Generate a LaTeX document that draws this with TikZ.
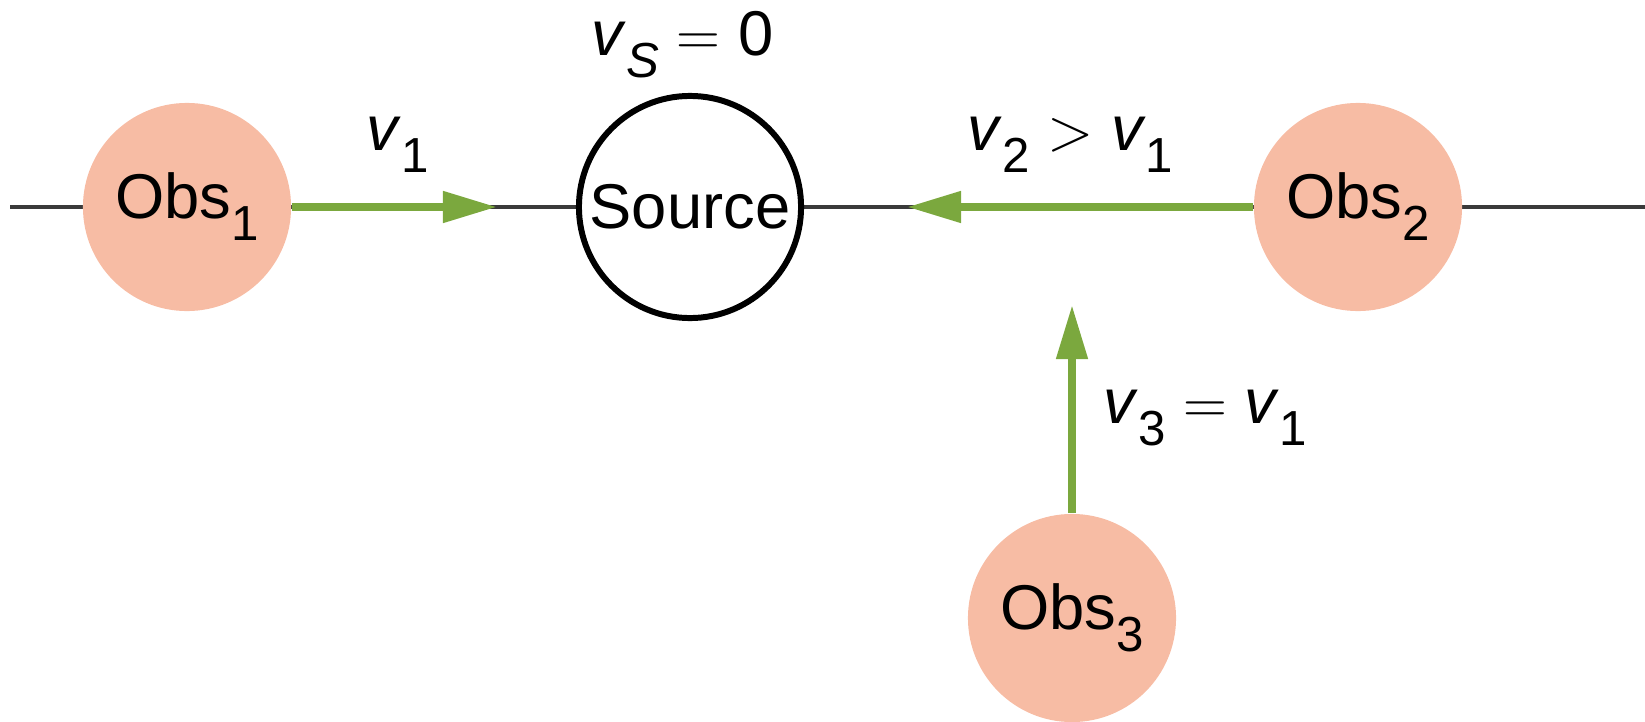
\documentclass[tikz,border=0pt]{standalone}
\usepackage{fontspec}
\setmainfont{Liberation Sans}
\usetikzlibrary{arrows.meta,positioning}
\definecolor{salmao}{HTML}{F7BCA4}
\definecolor{verde}{HTML}{7BA83E}
\definecolor{cinza}{HTML}{3A3A3A}
\newcommand{\lowsub}[1]{\raisebox{-0.22cm}{\fontsize{14}{14}\selectfont #1}}
\newcommand{\vel}[1]{\textit{v}\lowsub{#1}}

\begin{document}
\begin{tikzpicture}[
  x=0.01cm,y=-0.01cm,
  font=\fontsize{18}{20}\selectfont,
  obs/.style={circle,fill=salmao,minimum size=2.08cm,inner sep=0pt},
  fonte/.style={circle,draw=black,line width=1.7pt,fill=white,
                minimum size=2.22cm,inner sep=0pt},
  seta/.style={-{Triangle[length=0.54cm,width=0.3cm]},line width=2.2pt,verde},
  rotulo/.style={anchor=base west,inner sep=0pt}
]
  \useasboundingbox (0,0) rectangle (1645,721);
  % eixo horizontal
  \coordinate (esq) at (10,207);
  \coordinate (dir) at (1645,207);
  \draw[cinza,line width=1.1pt] (esq) -- (dir);
  \node[fonte] (src) at (690,207) {Source};
  \node[obs] (obs1) at (187,207) {Obs\lowsub{1}};
  \node[obs] (obs2) at (1358,207) {Obs\lowsub{2}};
  \node[obs] (obs3) at (1072,618) {Obs\lowsub{3}};
  % velocidades
  \coordinate (ponta1) at (497,207);
  \coordinate (ponta2) at (907,207);
  \coordinate (ponta3) at (1072,305);
  \draw[seta] (obs1) -- (ponta1);
  \draw[seta] (obs2) -- (ponta2);
  \draw[seta] (obs3) -- (ponta3);
  \node[rotulo] (lvs) at (591,55) {\vel{\textit{S}} $=$ 0};
  \node[rotulo] (lv1) at (366,150) {\vel{1}};
  \node[rotulo] (lv2) at (967,150) {\vel{2} $>$ \vel{1}};
  \node[rotulo] (lv3) at (1103,423) {\vel{3} $=$ \vel{1}};
\end{tikzpicture}
\end{document}
